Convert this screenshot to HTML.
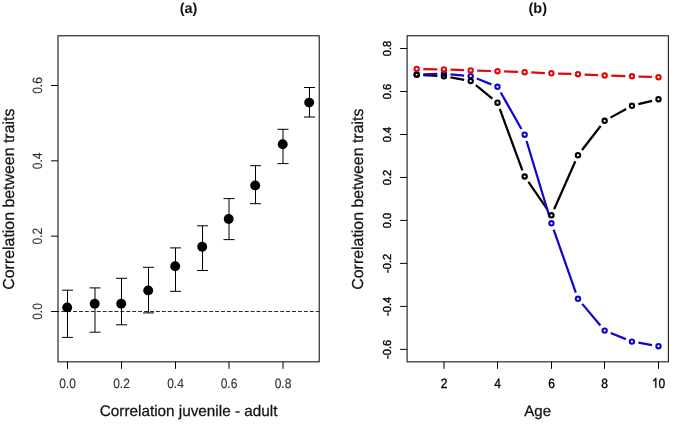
<!DOCTYPE html>
<html><head><meta charset="utf-8"><title>Correlation between traits</title>
<style>
html,body{margin:0;padding:0;background:#fff;}
svg{display:block;}
text{font-family:"Liberation Sans",sans-serif;text-rendering:geometricPrecision;}
.t{font-size:13.5px;fill:#333;stroke:#333;stroke-width:0.15px;}
.tr{font-size:13.5px;fill:#000;stroke:#000;stroke-width:0.35px;}
.ax,.ay,.ag{fill:#111;stroke:#111;stroke-width:0.25px;}
.ax{font-size:15.3px;}
.ay{font-size:15.9px;}
.ag{font-size:15.1px;}
.ti{font-size:14.5px;font-weight:bold;fill:#111;}
</style></head><body>
<svg width="685" height="434" viewBox="0 0 685 434">
<defs><filter id="gs" filterUnits="userSpaceOnUse" x="0" y="0" width="685" height="434" color-interpolation-filters="sRGB"><feColorMatrix type="saturate" values="0"/></filter></defs>
<rect width="685" height="434" fill="#fff"/>
<g>
<line x1="58" y1="311.5" x2="319.2" y2="311.5" stroke="#2a2a2a" stroke-width="1" stroke-dasharray="3.9 2.018" stroke-dashoffset="2.67"/>
<rect x="58" y="35.8" width="261.2" height="326.05" fill="none" stroke="#000" stroke-width="1"/>
<path d="M67.5 361.85V368.85M121.5 361.85V368.85M175.5 361.85V368.85M229 361.85V368.85M283 361.85V368.85M51 311.5H58M51 236.17H58M51 160.83H58M51 85.5H58" stroke="#000" stroke-width="1" fill="none"/>
<path d="M67.5 290.2V337.4M62 290.2H73M62 337.4H73M95 287.9V332.2M89.5 287.9H100.5M89.5 332.2H100.5M121.5 278.3V324.8M116 278.3H127M116 324.8H127M148.5 267.3V312.9M143 267.3H154M143 312.9H154M175.5 247.9V291.3M170 247.9H181M170 291.3H181M202.5 225.8V270.5M197 225.8H208M197 270.5H208M229 198.6V239.6M223.5 198.6H234.5M223.5 239.6H234.5M255.5 165.7V203.7M250 165.7H261M250 203.7H261M283 129.3V163.6M277.5 129.3H288.5M277.5 163.6H288.5M309.5 87.5V117M304 87.5H315M304 117H315" stroke="#000" stroke-width="1" fill="none"/>
<circle cx="67.2" cy="307.4" r="4.95"/>
<circle cx="94.7" cy="303.8" r="4.95"/>
<circle cx="121.2" cy="303.8" r="4.95"/>
<circle cx="148.2" cy="290.4" r="4.95"/>
<circle cx="175.2" cy="266.2" r="4.95"/>
<circle cx="202.2" cy="246.8" r="4.95"/>
<circle cx="228.7" cy="219" r="4.95"/>
<circle cx="255.2" cy="185.4" r="4.95"/>
<circle cx="282.7" cy="144.3" r="4.95"/>
<circle cx="309.2" cy="102.6" r="4.95"/>
<rect x="407.1" y="35.8" width="261.25" height="326.05" fill="none" stroke="#000" stroke-width="1"/>
<path d="M444 361.85V368.85M497.5 361.85V368.85M551.5 361.85V368.85M604.5 361.85V368.85M658.5 361.85V368.85M400.1 349.36H407.1M400.1 306.38H407.1M400.1 263.4H407.1M400.1 220.42H407.1M400.1 177.44H407.1M400.1 134.46H407.1M400.1 91.48H407.1M400.1 48.5H407.1" stroke="#000" stroke-width="1" fill="none"/>
<path d="M423.29 75.16L437.31 75.94M450.4 77.44L464.2 79.86M475.83 85.15L492.37 98.55M499.78 108.89L522.37 170.31M528.4 181.93L547.7 209.87M554.12 209.26L575.33 161.24M582.04 149.98L600.61 126.02M610.43 117.62L626.17 108.98M638.36 104.21L652.09 100.79" stroke="#000" stroke-width="2.25" fill="none"/>
<path d="M423.3 74.33L437.3 73.97M450.48 74.36L464.12 75.54M476.83 78.55L491.37 84.35M500.75 92.54L521.4 128.96M526.56 141.02L549.54 216.98M553.64 229.53L575.81 292.57M582.24 303.86L600.41 325.54M610.77 333.07L625.83 339.13M638.45 342.73L652 345.07" stroke="#1208cc" stroke-width="2.25" fill="none"/>
<circle cx="416.7" cy="74.5" r="2.15" fill="none" stroke="#1208cc" stroke-width="2.1"/>
<circle cx="443.9" cy="73.8" r="2.15" fill="none" stroke="#1208cc" stroke-width="2.1"/>
<circle cx="470.7" cy="76.1" r="2.15" fill="none" stroke="#1208cc" stroke-width="2.1"/>
<circle cx="497.5" cy="86.8" r="2.15" fill="none" stroke="#1208cc" stroke-width="2.1"/>
<circle cx="524.65" cy="134.7" r="2.15" fill="none" stroke="#1208cc" stroke-width="2.1"/>
<circle cx="551.45" cy="223.3" r="2.15" fill="none" stroke="#1208cc" stroke-width="2.1"/>
<circle cx="578" cy="298.8" r="2.15" fill="none" stroke="#1208cc" stroke-width="2.1"/>
<circle cx="604.65" cy="330.6" r="2.15" fill="none" stroke="#1208cc" stroke-width="2.1"/>
<circle cx="631.95" cy="341.6" r="2.15" fill="none" stroke="#1208cc" stroke-width="2.1"/>
<circle cx="658.5" cy="346.2" r="2.15" fill="none" stroke="#1208cc" stroke-width="2.1"/>
<circle cx="416.7" cy="74.8" r="2.15" fill="none" stroke="#000" stroke-width="2.1"/>
<circle cx="443.9" cy="76.3" r="2.15" fill="none" stroke="#000" stroke-width="2.1"/>
<circle cx="470.7" cy="81" r="2.15" fill="none" stroke="#000" stroke-width="2.1"/>
<circle cx="497.5" cy="102.7" r="2.15" fill="none" stroke="#000" stroke-width="2.1"/>
<circle cx="524.65" cy="176.5" r="2.15" fill="none" stroke="#000" stroke-width="2.1"/>
<circle cx="551.45" cy="215.3" r="2.15" fill="none" stroke="#000" stroke-width="2.1"/>
<circle cx="578" cy="155.2" r="2.15" fill="none" stroke="#000" stroke-width="2.1"/>
<circle cx="604.65" cy="120.8" r="2.15" fill="none" stroke="#000" stroke-width="2.1"/>
<circle cx="631.95" cy="105.8" r="2.15" fill="none" stroke="#000" stroke-width="2.1"/>
<circle cx="658.5" cy="99.2" r="2.15" fill="none" stroke="#000" stroke-width="2.1"/>
<path d="M423.3 69.02L437.3 69.28M450.5 69.65L464.1 70.15M477.3 70.6L490.9 71M504.1 71.44L518.05 71.96M531.24 72.47L544.86 73.03M558.05 73.52L571.4 73.98M584.59 74.52L598.06 75.18M611.25 75.69L625.35 76.11M638.55 76.52L651.9 76.98" stroke="#dc0a0a" stroke-width="2.25" fill="none"/>
<circle cx="416.7" cy="68.9" r="2.15" fill="none" stroke="#dc0a0a" stroke-width="2.1"/>
<circle cx="443.9" cy="69.4" r="2.15" fill="none" stroke="#dc0a0a" stroke-width="2.1"/>
<circle cx="470.7" cy="70.4" r="2.15" fill="none" stroke="#dc0a0a" stroke-width="2.1"/>
<circle cx="497.5" cy="71.2" r="2.15" fill="none" stroke="#dc0a0a" stroke-width="2.1"/>
<circle cx="524.65" cy="72.2" r="2.15" fill="none" stroke="#dc0a0a" stroke-width="2.1"/>
<circle cx="551.45" cy="73.3" r="2.15" fill="none" stroke="#dc0a0a" stroke-width="2.1"/>
<circle cx="578" cy="74.2" r="2.15" fill="none" stroke="#dc0a0a" stroke-width="2.1"/>
<circle cx="604.65" cy="75.5" r="2.15" fill="none" stroke="#dc0a0a" stroke-width="2.1"/>
<circle cx="631.95" cy="76.3" r="2.15" fill="none" stroke="#dc0a0a" stroke-width="2.1"/>
<circle cx="658.5" cy="77.2" r="2.15" fill="none" stroke="#dc0a0a" stroke-width="2.1"/>
</g>
<g filter="url(#gs)">
<text class="ti" x="188.6" y="12.8" text-anchor="middle">(a)</text>
<text class="t" text-anchor="middle" transform="translate(67.5 387.5) scale(0.89 1)">0.0</text>
<text class="t" text-anchor="middle" transform="translate(121.5 387.5) scale(0.89 1)">0.2</text>
<text class="t" text-anchor="middle" transform="translate(175.5 387.5) scale(0.89 1)">0.4</text>
<text class="t" text-anchor="middle" transform="translate(229 387.5) scale(0.89 1)">0.6</text>
<text class="t" text-anchor="middle" transform="translate(283 387.5) scale(0.89 1)">0.8</text>
<text class="t" style="font-size:13.5px" text-anchor="middle" transform="translate(42.4 311.5) rotate(-90) scale(0.89 1)">0.0</text>
<text class="t" style="font-size:13.5px" text-anchor="middle" transform="translate(42.4 236.17) rotate(-90) scale(0.89 1)">0.2</text>
<text class="t" style="font-size:13.5px" text-anchor="middle" transform="translate(42.4 160.83) rotate(-90) scale(0.89 1)">0.4</text>
<text class="t" style="font-size:13.5px" text-anchor="middle" transform="translate(42.4 85.5) rotate(-90) scale(0.89 1)">0.6</text>
<text class="ax" x="188.6" y="415.7" text-anchor="middle">Correlation juvenile - adult</text>
<text class="ay" text-anchor="middle" transform="translate(14 199.18) rotate(-90)">Correlation between traits</text>
<text class="ti" x="537.73" y="12.8" text-anchor="middle">(b)</text>
<text class="tr" text-anchor="middle" transform="translate(444 387.5) scale(0.89 1)">2</text>
<text class="tr" text-anchor="middle" transform="translate(497.5 387.5) scale(0.89 1)">4</text>
<text class="tr" text-anchor="middle" transform="translate(551.5 387.5) scale(0.89 1)">6</text>
<text class="tr" text-anchor="middle" transform="translate(604.5 387.5) scale(0.89 1)">8</text>
<path d="M763 0L583 0L583 1147Q518 1085 412.5 1023Q307 961 223 930L223 1104Q374 1175 487 1276Q600 1377 647 1472L763 1472Z" fill="#000" stroke="#000" stroke-width="0.35" vector-effect="non-scaling-stroke" transform="translate(651.82 387.5) scale(0.005867 -0.006592)"/>
<text class="tr" transform="translate(658.5 387.5) scale(0.89 1)">0</text>
<text class="tr" style="font-size:11.6px" text-anchor="middle" transform="translate(390.8 349.36) rotate(-90) scale(0.96 1)">-0.6</text>
<text class="tr" style="font-size:11.6px" text-anchor="middle" transform="translate(390.8 306.38) rotate(-90) scale(0.96 1)">-0.4</text>
<text class="tr" style="font-size:11.6px" text-anchor="middle" transform="translate(390.8 263.4) rotate(-90) scale(0.96 1)">-0.2</text>
<text class="tr" style="font-size:11.6px" text-anchor="middle" transform="translate(390.8 220.42) rotate(-90) scale(0.96 1)">0.0</text>
<text class="tr" style="font-size:11.6px" text-anchor="middle" transform="translate(390.8 177.44) rotate(-90) scale(0.96 1)">0.2</text>
<text class="tr" style="font-size:11.6px" text-anchor="middle" transform="translate(390.8 134.46) rotate(-90) scale(0.96 1)">0.4</text>
<text class="tr" style="font-size:11.6px" text-anchor="middle" transform="translate(390.8 91.48) rotate(-90) scale(0.96 1)">0.6</text>
<text class="tr" style="font-size:11.6px" text-anchor="middle" transform="translate(390.8 48.5) rotate(-90) scale(0.96 1)">0.8</text>
<text class="ag" x="537.73" y="415.7" text-anchor="middle">Age</text>
<text class="ay" text-anchor="middle" transform="translate(363.1 199.18) rotate(-90)">Correlation between traits</text>
</g>
</svg>
</body></html>
